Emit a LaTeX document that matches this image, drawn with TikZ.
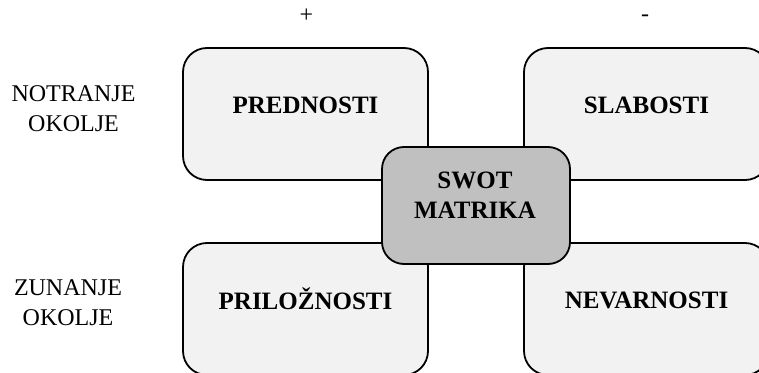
\documentclass[tikz,border=0pt]{standalone}
\usepackage{fontspec}
\setmainfont{Liberation Serif}
\definecolor{panelgray}{HTML}{F2F2F2}
\definecolor{coregray}{HTML}{C0C0C0}
\begin{document}
\begin{tikzpicture}[x=1pt,y=1pt,
  font=\fontsize{24}{30}\selectfont,
  panel/.style={draw,line width=1.8pt,rounded corners=24pt,fill=panelgray,
    minimum width=245pt,minimum height=132pt,inner sep=0pt},
  core/.style={panel,fill=coregray,rounded corners=22pt,
    minimum width=188pt,minimum height=117pt},
  title/.style={font=\fontsize{25}{30}\selectfont\bfseries,align=center,inner sep=0pt},
  side/.style={align=center,inner sep=0pt}]
\clip (0,0) rectangle (759,372);

% four fields of the matrix
\node[panel] (pred) at (305.5,258) {};
\node[panel] (slab) at (646.5,258) {};
\node[panel] (pril) at (305.5,63) {};
\node[panel] (nev) at (646.5,63) {};
\node[title] (predt) at (305.5,267) {PREDNOSTI};
\node[title] (slabt) at (646.5,267) {SLABOSTI};
\node[title, text height=17pt, text depth=0pt] (prilt) at (305.5,71.5) {PRILOŽNOSTI};
\node[title] (nevt) at (646.5,72) {NEVARNOSTI};

% middle box
\node[core] (swot) at (476,166.5) {};
\node[title] (swott) at (475,177) {SWOT\\MATRIKA};

% axis labels
\node[side] (plus) at (306.5,356) {+};
\node[side] (minus) at (645,354) {-};
\node[side] (notr) at (73.5,263) {NOTRANJE\\OKOLJE};
\node[side] (zun) at (68,69) {ZUNANJE\\OKOLJE};
\end{tikzpicture}
\end{document}
